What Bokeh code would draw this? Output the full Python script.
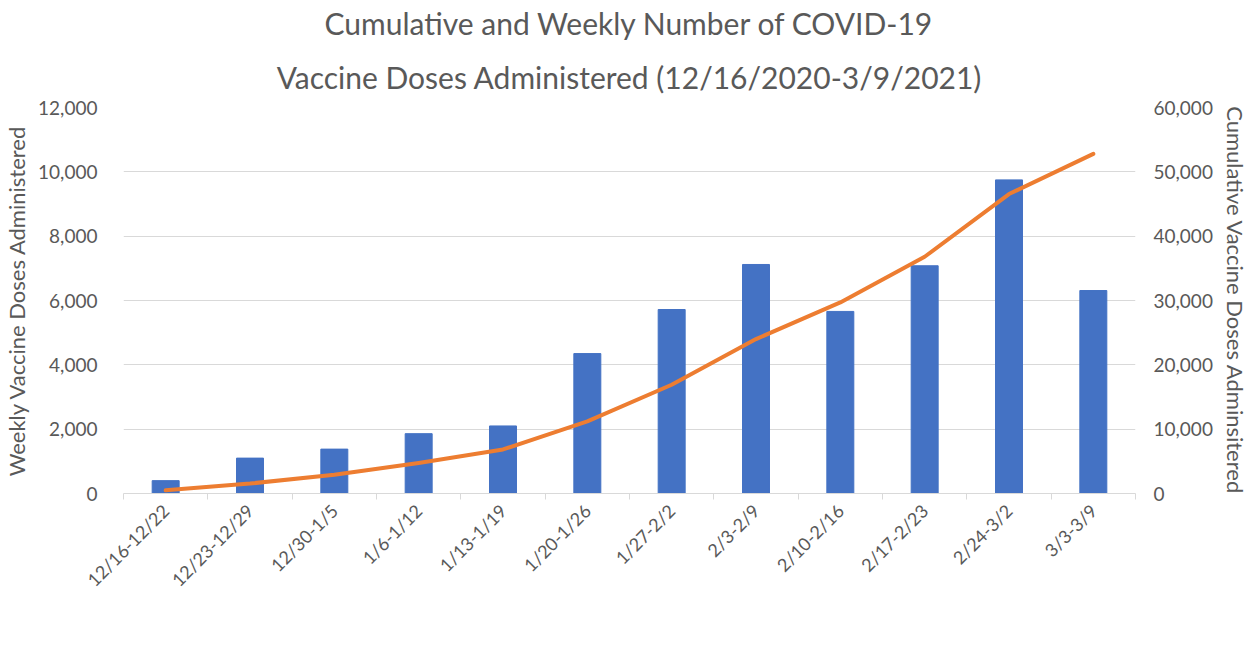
import math
from bokeh.plotting import figure
from bokeh.models import (Range1d, LinearAxis, FixedTicker, NumeralTickFormatter,
                          Title, Legend, LegendItem, ColumnDataSource)
from bokeh.embed import file_html
from bokeh.resources import INLINE

weeks = ["12/16-12/22", "12/23-12/29", "12/30-1/5", "1/6-1/12", "1/13-1/19",
         "1/20-1/26", "1/27-2/2", "2/3-2/9", "2/10-2/16", "2/17-2/23",
         "2/24-3/2", "3/3-3/9"]
weekly = [400, 1100, 1380, 1860, 2100, 4350, 5720, 7120, 5660, 7080, 9750, 6310]
cumulative = [500, 1550, 2900, 4750, 6850, 11200, 16900, 24000, 29700, 36800, 46550, 52800]

FONT = "Lato"
GREY = "#595959"

xs = [i + 0.5 for i in range(len(weeks))]
src = ColumnDataSource(dict(x=xs, weekly=weekly, cum=cumulative, week=weeks))

p = figure(frame_width=1012, frame_height=386, output_backend="svg", toolbar_location=None,
           x_range=Range1d(0, len(weeks)), y_range=Range1d(0, 12000),
           min_border_left=121, min_border_right=120, min_border_top=106,
           min_border_bottom=100)
p.extra_y_ranges = {"cum": Range1d(0, 60000)}
p.outline_line_color = None
p.background_fill_color = "white"
p.border_fill_color = "white"

bars = p.vbar(x="x", top="weekly", width=0.32, source=src, color="#4472C4")
line = p.line(x="x", y="cum", source=src, y_range_name="cum",
              line_color="#ED7D31", line_width=4, line_cap="round", line_join="round")

# grid
p.xgrid.grid_line_color = None
p.ygrid.grid_line_color = "#d9d9d9"
p.ygrid.grid_line_width = 1

# x axis
xa = p.xaxis[0]
xa.ticker = FixedTicker(ticks=xs, minor_ticks=list(range(len(weeks) + 1)))
xa.major_label_overrides = {x: w for x, w in zip(xs, weeks)}
xa.major_label_orientation = math.pi / 4
xa.major_tick_line_color = None
xa.minor_tick_line_color = "#d9d9d9"
xa.minor_tick_out = 6
xa.minor_tick_in = 0
xa.axis_line_color = "#d9d9d9"
xa.major_label_text_font = FONT
xa.major_label_text_font_size = "18px"
xa.major_label_text_color = GREY
xa.major_label_standoff = 8

# left axis
ya = p.yaxis[0]
ya.ticker = FixedTicker(ticks=list(range(0, 12001, 2000)))
ya.formatter = NumeralTickFormatter(format="0,0")
ya.axis_line_color = None
ya.major_tick_line_color = None
ya.minor_tick_line_color = None
ya.major_label_text_font = FONT
ya.major_label_text_font_size = "19px"
ya.major_label_text_color = GREY
ya.major_label_standoff = 20
ya.axis_label = "Weekly Vaccine Doses Administered"
ya.axis_label_text_font = FONT
ya.axis_label_text_font_size = "22px"
ya.axis_label_text_font_style = "normal"
ya.axis_label_text_color = GREY
ya.axis_label_standoff = 5

# right axis
ra = LinearAxis(y_range_name="cum",
                ticker=FixedTicker(ticks=list(range(0, 60001, 10000))),
                formatter=NumeralTickFormatter(format="0,0"))
ra.axis_line_color = None
ra.major_tick_line_color = None
ra.minor_tick_line_color = None
ra.major_label_text_font = FONT
ra.major_label_text_font_size = "19px"
ra.major_label_text_color = GREY
ra.major_label_standoff = 12
ra.axis_label = "Cumulative Vaccine Doses Adminsitered"
ra.axis_label_text_font = FONT
ra.axis_label_text_font_size = "22px"
ra.axis_label_text_font_style = "normal"
ra.axis_label_text_color = GREY
ra.axis_label_standoff = 6
p.add_layout(ra, "right")

# titles (two lines, centered)
t2 = Title(text="Vaccine Doses Administered (12/16/2020-3/9/2021)", align="center",
           text_font=FONT, text_font_size="30px", text_font_style="normal",
           text_color=GREY, standoff=26)
t1 = Title(text="Cumulative and Weekly Number of COVID-19", align="center",
           text_font=FONT, text_font_size="30px", text_font_style="normal",
           text_color=GREY, standoff=5)
p.add_layout(t2, "above")
p.add_layout(t1, "above")

legend = Legend(items=[LegendItem(label="Weekly Total", renderers=[bars]),
                       LegendItem(label="Cumulative Total", renderers=[line])],
                orientation="horizontal", location="top_center",
                glyph_width=46, glyph_height=13, spacing=32, padding=0, margin=6,
                label_standoff=8,
                label_text_font=FONT, label_text_font_size="19px",
                label_text_color=GREY, border_line_color=None,
                background_fill_alpha=0)
p.add_layout(legend, "below")

open("out.html", "w").write(file_html(p, INLINE))
